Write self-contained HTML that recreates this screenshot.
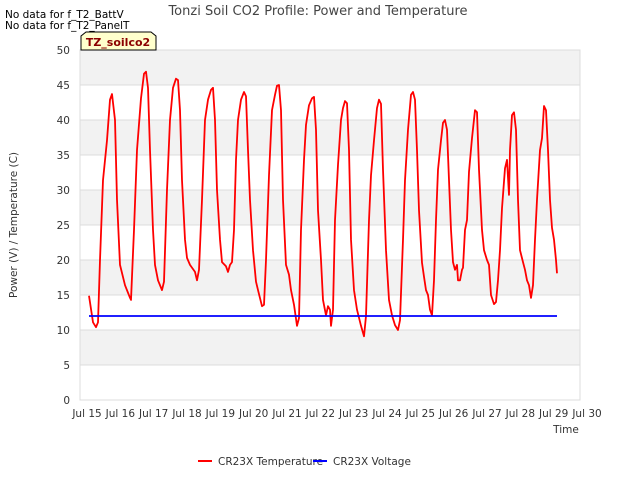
<!DOCTYPE html>
<html><head><meta charset="utf-8"><style>
body{margin:0;background:#fff;font-family:"Liberation Sans","DejaVu Sans",sans-serif}
svg text{font-family:"DejaVu Sans","Liberation Sans",sans-serif}
</style></head><body>
<svg id="chart" width="640" height="480">
<text x="5" y="18" font-size="10.5" fill="#000">No data for f_T2_BattV</text>
<text x="5" y="29" font-size="10.5" fill="#000">No data for f_T2_PanelT</text>
<text x="318" y="15" font-size="13" fill="#444" text-anchor="middle">Tonzi Soil CO2 Profile: Power and Temperature</text>
<g id="plot"></g>
<g>
<path d="M81,50 L81,36 L86,32 L151,32 L156,36 L156,50 Z" fill="#ffffcc" stroke="#000" stroke-width="1"/>
<text x="118" y="46" font-size="11" font-weight="bold" fill="#8b0000" text-anchor="middle">TZ_soilco2</text>
</g>
<text transform="translate(17,225) rotate(-90)" font-size="10.5" fill="#333" text-anchor="middle">Power (V) / Temperature (C)</text>
<text x="566" y="433" font-size="10.5" fill="#333" text-anchor="middle">Time</text>
<g>
<line x1="198" y1="461" x2="212" y2="461" stroke="#f00" stroke-width="2"/>
<text x="218" y="465" font-size="10.5" fill="#333">CR23X Temperature</text>
<line x1="313" y1="461" x2="327" y2="461" stroke="#00f" stroke-width="2"/>
<text x="333" y="465" font-size="10.5" fill="#333">CR23X Voltage</text>
</g>
</svg>
<script>
const yTicks=[0,5,10,15,20,25,30,35,40,45,50];
const xTickDays=[15,16,17,18,19,20,21,22,23,24,25,26,27,28,29,30];
const xTickLabels=xTickDays.map(d=>"Jul "+d);
const tempDays=[15.06,15.18,15.27,15.33,15.39,15.48,15.60,15.69,15.75,15.84,15.90,15.99,16.14,16.29,16.32,16.41,16.50,16.62,16.71,16.77,16.83,16.89,16.98,17.04,17.13,17.25,17.31,17.40,17.49,17.58,17.67,17.73,17.79,17.85,17.94,18.00,18.09,18.24,18.30,18.36,18.45,18.54,18.63,18.72,18.78,18.84,18.90,18.99,19.05,19.17,19.23,19.29,19.35,19.41,19.47,19.53,19.62,19.71,19.77,19.83,19.89,19.98,20.07,20.13,20.25,20.31,20.37,20.46,20.55,20.64,20.70,20.76,20.82,20.88,20.97,21.06,21.12,21.21,21.30,21.36,21.42,21.51,21.57,21.66,21.75,21.81,21.87,21.93,22.02,22.08,22.17,22.23,22.29,22.32,22.38,22.44,22.53,22.62,22.68,22.74,22.80,22.86,22.92,23.01,23.10,23.22,23.31,23.37,23.46,23.52,23.61,23.70,23.76,23.82,23.88,23.97,24.06,24.15,24.24,24.33,24.39,24.48,24.54,24.63,24.72,24.78,24.84,24.90,24.96,25.05,25.11,25.17,25.23,25.29,25.35,25.41,25.47,25.53,25.62,25.68,25.74,25.80,25.86,25.92,25.98,26.04,26.10,26.13,26.19,26.25,26.28,26.34,26.40,26.46,26.55,26.64,26.70,26.76,26.85,26.91,27.00,27.06,27.12,27.21,27.27,27.33,27.39,27.45,27.54,27.60,27.66,27.69,27.75,27.81,27.87,27.93,27.99,28.08,28.14,28.20,28.26,28.32,28.38,28.44,28.50,28.59,28.65,28.71,28.77,28.83,28.89,28.95,29.01,29.07,29.10];
const tempValues=[14.9,11.1,10.4,11.1,20.0,31.4,37.1,42.9,43.7,40.0,28.6,19.3,16.4,14.6,14.3,24.3,35.7,43.1,46.6,46.9,44.6,35.7,24.3,19.3,17.1,15.7,16.9,30.0,40.0,44.6,45.9,45.7,41.4,31.4,22.9,20.3,19.3,18.3,17.1,18.6,28.6,40.0,42.9,44.3,44.6,40.0,30.0,22.9,19.7,19.1,18.3,19.3,19.7,24.3,34.3,40.0,42.9,44.0,43.4,35.7,28.6,21.4,16.9,15.7,13.4,13.6,20.0,32.1,41.4,43.6,44.9,45.0,41.4,28.6,19.3,17.9,15.7,13.6,10.6,11.7,24.3,34.3,39.3,42.1,43.1,43.3,38.6,27.1,20.0,14.3,12.1,13.4,12.9,10.6,12.9,25.7,33.6,40.0,41.7,42.7,42.4,35.7,22.9,15.7,12.9,10.6,9.1,12.0,25.7,32.1,37.1,41.7,42.9,42.3,32.9,21.4,14.3,12.1,10.7,10.0,11.4,22.9,31.4,38.6,43.6,44.0,42.9,35.7,27.1,19.6,17.6,15.7,15.0,12.9,12.1,17.1,25.7,32.9,37.1,39.6,40.0,38.6,31.4,24.3,19.7,18.6,19.3,17.1,17.1,18.6,18.9,24.3,25.7,32.6,37.4,41.4,41.1,32.9,24.3,21.4,20.0,19.3,15.0,13.7,14.0,17.1,21.4,27.4,33.1,34.3,29.3,35.7,40.7,41.1,38.6,28.6,21.4,19.7,18.6,17.1,16.4,14.6,16.4,22.9,28.6,35.7,37.4,42.0,41.4,35.7,28.6,24.6,22.9,20.0,18.1];
const voltDays=[15.06,29.10];
const voltValues=[12,12];

const NS="http://www.w3.org/2000/svg";
const L=80,R=580,T=50,B=400,xmin=14.79,xmax=29.79,ymin=0,ymax=50;
const xs=d=>L+(d-xmin)/(xmax-xmin)*(R-L);
const ys=v=>B-(v-ymin)/(ymax-ymin)*(B-T);
const plot=document.getElementById('plot');
function mk(tag,attrs){const e=document.createElementNS(NS,tag);for(const k in attrs)e.setAttribute(k,attrs[k]);return e;}
for(let i=0;i<yTicks.length-1;i++){
  if(i%2===1){const r=mk('rect',{x:L,y:ys(yTicks[i+1]),width:R-L,height:ys(yTicks[i])-ys(yTicks[i+1]),fill:'#f2f2f2'});
  
  
  plot.appendChild(r);}
}
yTicks.forEach(v=>{
  const g=mk('line',{x1:L,x2:R,y1:ys(v),y2:ys(v),stroke:'#dcdcdc','stroke-width':1});
  
  
  plot.appendChild(g);
  const t=mk('text',{x:70,y:ys(v)+4,'font-size':10.5,fill:'#333','text-anchor':'end'});
  t.textContent=v;
  
  
  plot.appendChild(t);
});
const fr=mk('rect',{x:L,y:T,width:R-L,height:B-T,fill:'none',stroke:'#dcdcdc'});


plot.appendChild(fr);
xTickDays.forEach((d,i)=>{
  const t=mk('text',{x:xs(d),y:417,'font-size':10.5,fill:'#333','text-anchor':'middle'});
  t.textContent=xTickLabels[i];
  
  
  plot.appendChild(t);
});
function line(days,vals,color,name){
  const p=mk('polyline',{points:days.map((d,i)=>xs(d).toFixed(1)+','+ys(vals[i]).toFixed(1)).join(' '),fill:'none',stroke:color,'stroke-width':1.8,'stroke-linejoin':'round'});
  
  
  plot.appendChild(p);
}
line(tempDays,tempValues,'#f00','temperature-line');
line(voltDays,voltValues,'#00f','voltage-line');
</script>
</body></html>
